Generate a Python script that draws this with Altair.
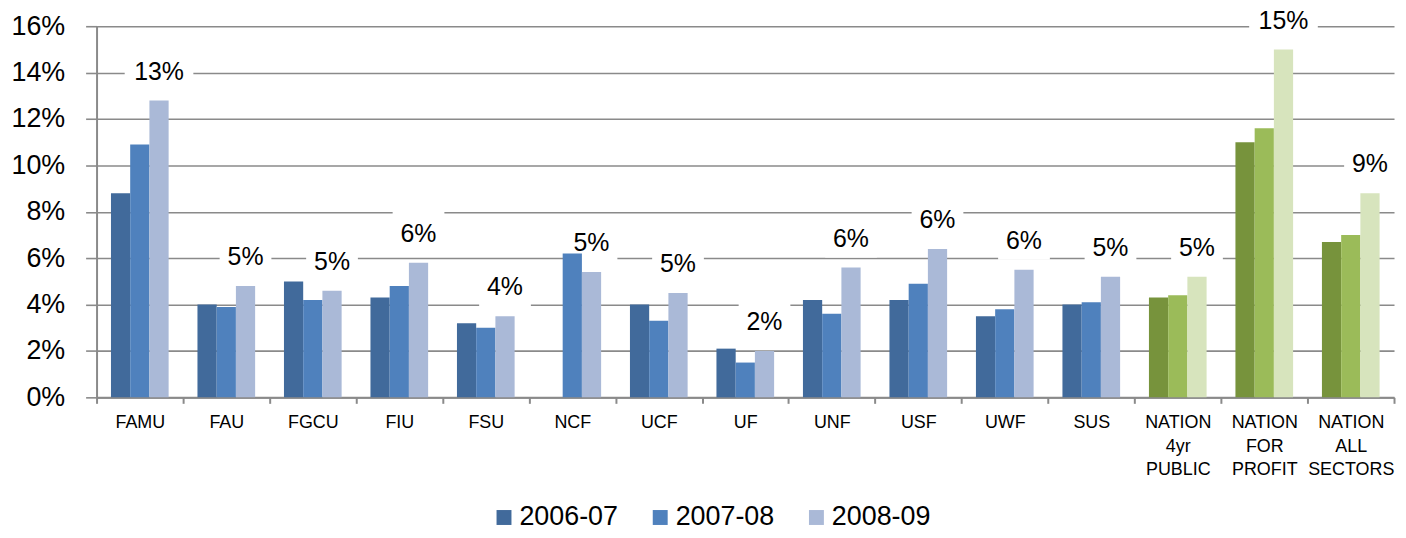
import altair as alt
import pandas as pd

institutions = ["FAMU", "FAU", "FGCU", "FIU", "FSU", "NCF", "UCF", "UF", "UNF",
                "USF", "UWF", "SUS", "NATION 4yr PUBLIC", "NATION FOR PROFIT",
                "NATION ALL SECTORS"]
series = ["2006-07", "2007-08", "2008-09"]
v_2006_07 = [8.8, 4.0, 5.0, 4.3, 3.2, None, 4.0, 2.1, 4.2, 4.2, 3.5, 4.0, 4.3, 11.0, 6.7]
v_2007_08 = [10.9, 3.9, 4.2, 4.8, 3.0, 6.2, 3.3, 1.5, 3.6, 4.9, 3.8, 4.1, 4.4, 11.6, 7.0]
v_2008_09 = [12.8, 4.8, 4.6, 5.8, 3.5, 5.4, 4.5, 2.0, 5.6, 6.4, 5.5, 5.2, 5.2, 15.0, 8.8]
labels_2008_09 = ["13%", "5%", "5%", "6%", "4%", "5%", "5%", "2%", "6%", "6%", "6%",
                  "5%", "5%", "15%", "9%"]
y_ticks = [0, 2, 4, 6, 8, 10, 12, 14, 16]

blues = ["#416A9B", "#4F81BD", "#AAB9D7"]
greens = ["#77933C", "#9BBB59", "#D7E4BD"]

rows = []
for i, inst in enumerate(institutions):
    nation = inst.startswith("NATION")
    for s, vals in zip(series, [v_2006_07, v_2007_08, v_2008_09]):
        rows.append({
            "inst": inst,
            "series": s,
            "value": vals[i],
            "key": s + (" N" if nation else ""),
            "label": labels_2008_09[i] if s == "2008-09" else "",
        })
df = pd.DataFrame(rows)

FONT = "Liberation Sans, Arial"
GRAY = "#8A8A8A"

x_enc = alt.X("inst:N", sort=institutions,
              scale=alt.Scale(paddingInner=0, paddingOuter=0),
              axis=alt.Axis(title=None, labelAngle=0,
                            labelExpr="split(datum.label, ' ')",
                            labelLineHeight=24, labelFontSize=18,
                            labelFont=FONT, labelColor="#000000",
                            labelAlign="center",
                            tickBand="extent", tickSize=6, tickWidth=2,
                            tickColor=GRAY, domainColor=GRAY, domainWidth=2,
                            labelPadding=10))
xoff_enc = alt.XOffset("series:N", scale=alt.Scale(domain=series, paddingInner=0,
                                                   paddingOuter=0.75))
y_enc = alt.Y("value:Q", scale=alt.Scale(domain=[0, 16], nice=False),
              axis=alt.Axis(title=None, values=y_ticks,
                            labelExpr="datum.value + '%'",
                            labelFontSize=27, labelFont=FONT,
                            labelColor="#000000", labelPadding=21,
                            grid=True, gridColor=GRAY, gridWidth=1.6,
                            tickColor=GRAY, tickSize=11, tickWidth=1.6,
                            domainColor=GRAY, domainWidth=2))

bars = alt.Chart(df).mark_bar().encode(
    x=x_enc,
    xOffset=xoff_enc,
    y=y_enc,
    color=alt.Color("key:N",
                    scale=alt.Scale(domain=series + [s + " N" for s in series],
                                    range=blues + greens),
                    legend=alt.Legend(title=None, orient="none", legendX=396,
                                      legendY=480, direction="horizontal",
                                      values=series, symbolType="square",
                                      symbolSize=225, symbolStrokeWidth=0,
                                      labelFontSize=27, labelFont=FONT,
                                      labelColor="#000000", columnPadding=28,
                                      labelOffset=2, padding=0)),
)

lab = alt.Chart(df).transform_filter("datum.label != ''")

box2 = lab.transform_filter("length(datum.label) == 2").mark_point(
    shape="M-1,-0.88L1,-0.88L1,0.73L-1,0.73Z", size=2704, filled=True,
    color="white", opacity=1, strokeWidth=0, yOffset=-29
).encode(x=x_enc, xOffset=xoff_enc, y=y_enc)

box3 = lab.transform_filter("length(datum.label) == 3").mark_point(
    shape="M-1,-0.68L1,-0.68L1,0.56L-1,0.56Z", size=4761, filled=True,
    color="white", opacity=1, strokeWidth=0, yOffset=-29
).encode(x=x_enc, xOffset=xoff_enc, y=y_enc)

text = lab.mark_text(dy=-29, fontSize=25, font=FONT, color="#000000",
                     baseline="middle", align="center").encode(
    x=x_enc, xOffset=xoff_enc, y=y_enc, text="label:N")

chart = alt.layer(box2, box3, bars, text).properties(
    width=1304, height=373,
    autosize=alt.AutoSizeParams(type="none"),
    padding={"left": 89, "top": 17, "right": 4, "bottom": 132},
).configure_view(stroke=None)

chart.save("out.html", embed_options={"renderer": "svg", "actions": False})
